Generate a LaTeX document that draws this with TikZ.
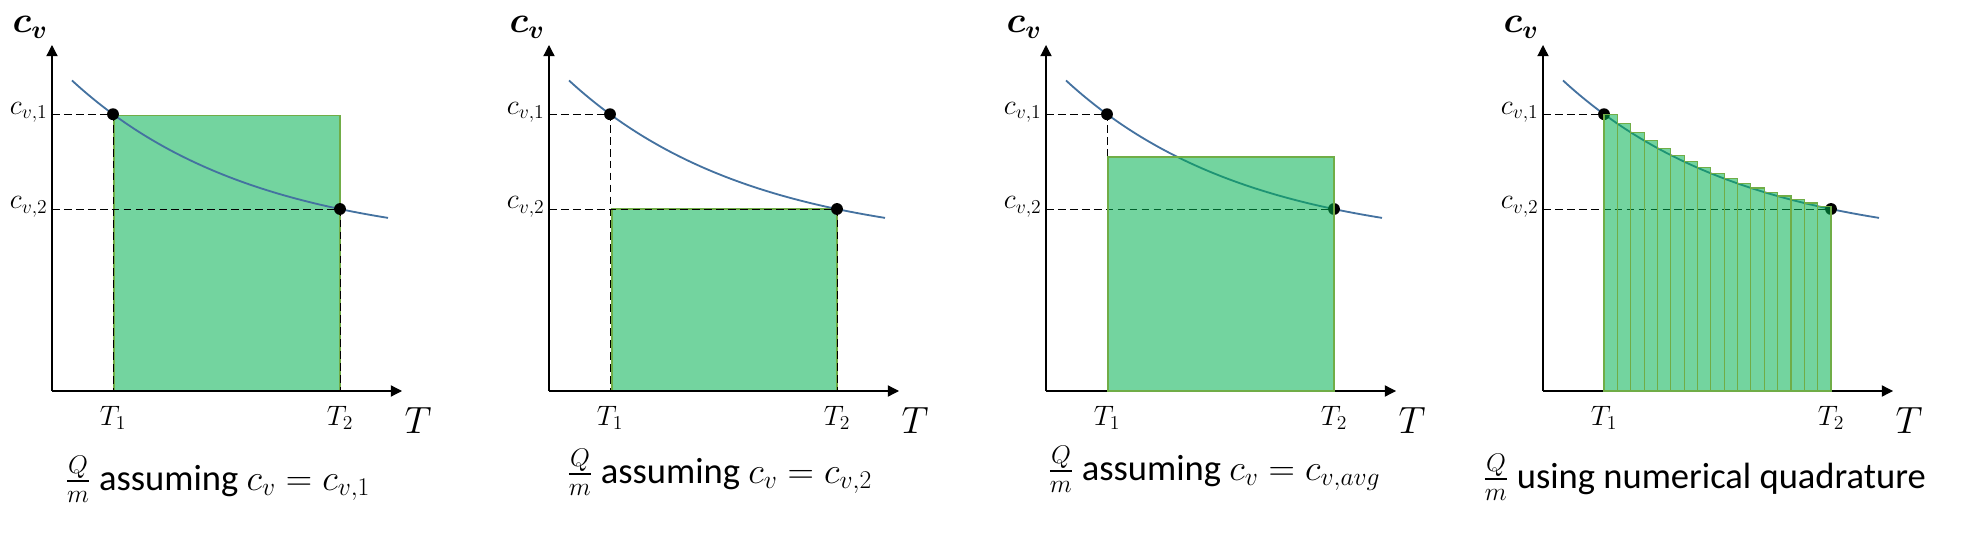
\RequirePackage{fix-cm}
\documentclass[tikz,border=0pt]{standalone}
\usepackage{amsmath}
\usepackage[no-math]{fontspec}
\setmainfont{Carlito}
\usetikzlibrary{arrows.meta}

\definecolor{curveblue}{RGB}{68,114,160}
\definecolor{areagreen}{RGB}{0,176,80}
\definecolor{edgegreen}{RGB}{112,173,71}

\begin{document}
\begin{tikzpicture}[
  declare function={f(\x)=3.6+3.32*exp(-0.2208*(\x-1.525));},
  axis/.style={line width=0.9pt, -{Triangle[length=8pt,width=8pt]}},
  guide/.style={line width=0.7pt, dash pattern=on 5.5pt off 3pt},
  curve/.style={curveblue, line width=1.3pt},
  area/.style={fill=areagreen, fill opacity=0.55, draw=edgegreen, line width=0.8pt},
  lab/.style={font=\fontsize{20}{24}\selectfont, inner sep=1pt},
  caption/.style={font=\fontsize{26}{31}\selectfont, anchor=base west, inner sep=0pt}
]
\useasboundingbox (-1.3,-3.675) rectangle (47.725,9.775);

% areas lying under the curve
\draw [area] (1.55,0) rectangle (7.2,6.88);
\begin{scope}[xshift=12.425cm]
\draw [area] (1.575,0) rectangle (7.2,4.55);
\end{scope}

% the four plots
\foreach \p/\sx in {1/0, 2/12.425, 3/24.85, 4/37.275} {
\begin{scope}[xshift=\sx cm]
\coordinate (O\p) at (0,0);
\coordinate (Ya\p) at (0,6.92);
\coordinate (Yb\p) at (0,4.55);
\coordinate (Xa\p) at (1.525,0);
\coordinate (Xb\p) at (7.2,0);
\coordinate (Pa\p) at (1.525,6.92);
\coordinate (Pb\p) at (7.2,4.55);
\draw [axis] (O\p) -- (0,8.65);
\draw [axis] (O\p) -- (8.75,0);
\draw [guide] (Ya\p) -- (Pa\p) -- (Xa\p);
\draw [guide] (Yb\p) -- (Pb\p) -- (Xb\p);
\draw [curve] plot[domain=0.5:8.4, samples=60, smooth] (\x,{f(\x)});
\fill (Pa\p) circle (0.148);
\fill (Pb\p) circle (0.148);
\node [font=\fontsize{26}{30}\selectfont, anchor=base] (cv\p) at (-0.55,8.95) {$\boldsymbol{c_v}$};
\node [lab, anchor=base east] (ca\p) at (-0.07,6.92) {$c_{v,1}$};
\node [lab, anchor=base east] (cb\p) at (-0.07,4.55) {$c_{v,2}$};
\node [lab, anchor=base] (ta\p) at (1.525,-0.85) {$T_1$};
\node [lab, anchor=base] (tb\p) at (7.2,-0.85) {$T_2$};
\node [font=\fontsize{27}{32}\selectfont, anchor=base] (T\p) at (9.15,-1.05) {$T$};
\end{scope}
}

% areas lying over the curve
\begin{scope}[xshift=24.85cm]
\draw [area] (1.55,0) rectangle (7.2,5.85);
\end{scope}
\begin{scope}[xshift=37.275cm]
\foreach \i in {0,...,16} {
  \pgfmathsetmacro\xa{1.525+\i*0.33382}
  \draw [area] (\xa,0) rectangle ({\xa+0.33382},{f(\xa)});
}
\end{scope}

% captions
\node [caption] (q1) at (0.33,-2.48) {$\frac{Q}{m}$ assuming $c_v = c_{v,1}$};
\node [caption] (q2) at (12.875,-2.3) {$\frac{Q}{m}$ assuming $c_v = c_{v,2}$};
\node [caption] (q3) at (24.9,-2.23) {$\frac{Q}{m}$ assuming $c_v = c_{v,avg}$};
\node [caption] (q4) at (35.775,-2.43) {$\frac{Q}{m}$ using numerical quadrature};
\end{tikzpicture}
\end{document}
